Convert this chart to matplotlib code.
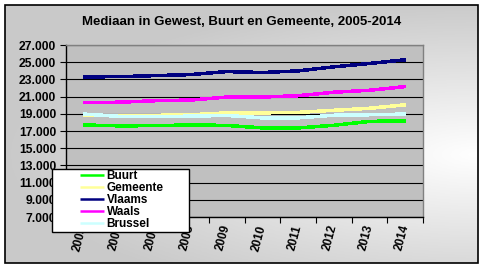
import numpy as np
import matplotlib
matplotlib.use("Agg")
import matplotlib.pyplot as plt
from matplotlib.patches import Rectangle
from matplotlib.ticker import FuncFormatter, FixedLocator

years = ["2005", "2006", "2007", "2008", "2009", "2010", "2011", "2012", "2013", "2014"]
buurt = [17700, 17600, 17620, 17710, 17650, 17360, 17360, 17660, 18120, 18180]
gemeente = [18780, 18800, 18820, 18890, 19110, 19110, 19160, 19410, 19640, 20050]
vlaams = [23290, 23320, 23440, 23560, 23910, 23800, 23990, 24460, 24850, 25280]
waals = [20290, 20350, 20520, 20600, 20950, 20950, 21100, 21510, 21740, 22160]
brussel = [18970, 18700, 18660, 18730, 18810, 18530, 18530, 18830, 18890, 18970]

series_names = ["Buurt", "Gemeente", "Vlaams", "Waals", "Brussel"]
series_vals = [buurt, gemeente, vlaams, waals, brussel]
series_colors = ["#00FF00", "#FFFF99", "#000080", "#FF00FF", "#CCFFFF"]

title = "Mediaan in Gewest, Buurt en Gemeente, 2005-2014"

W, H = 484, 269
plt.rcParams['font.family'] = ['Liberation Sans', 'DejaVu Sans']
fig = plt.figure(figsize=(W / 100, H / 100), dpi=100)
fig.patch.set_facecolor("white")

def fx(px):
    return px / W

def fy(py):
    return 1 - py / H

# background gradient inside chart border
bx0, bx1, by0, by1 = 5, 478, 5, 263
bg = fig.add_axes([fx(bx0), fy(by1), fx(bx1 - bx0), (by1 - by0) / H], zorder=-10)
gx = np.linspace(0, 1, 200)
gy = np.linspace(0, 1, 120)
GX, GY = np.meshgrid(gx, gy)
d = np.sqrt(((GX - 1.0) / 1.0) ** 2 + ((GY - 0.42) / 0.6) ** 2)
val = 1 - 0.21 * np.clip(d, 0, 1)
img = np.dstack([val, val, val])
bg.imshow(img, origin="lower", aspect="auto", extent=[0, 1, 0, 1])
bg.set_axis_off()

fig.patches.append(Rectangle((fx(bx0), fy(by1)), fx(bx1 - bx0), (by1 - by0) / H,
                             transform=fig.transFigure, fill=False,
                             edgecolor="black", linewidth=1.2, zorder=-5))

# plot area
ax = fig.add_axes([fx(66), fy(217), fx(423 - 66), (217 - 45) / H])
ax.set_facecolor("#C0C0C0")
x = np.arange(len(years))
for name, vals, col in zip(series_names, series_vals, series_colors):
    ax.plot(x, vals, color=col, linewidth=1.8, label=name, solid_capstyle="butt",
            antialiased=False, zorder=3)

ax.set_xlim(-0.5, len(years) - 0.5)
ax.set_ylim(7000, 27000)
ax.set_yticks(np.arange(7000, 27001, 2000))
ax.yaxis.set_major_formatter(FuncFormatter(lambda v, p: f"{int(v):,}".replace(",", ".")))
ax.yaxis.grid(True, color="black", linewidth=0.8)
ax.set_axisbelow(True)

ax.xaxis.set_major_locator(FixedLocator(np.arange(-0.5, len(years), 1.0)))
ax.xaxis.set_major_formatter(FuncFormatter(lambda v, p: ""))
ax.xaxis.set_minor_locator(FixedLocator(x))
ax.set_xticklabels(years, minor=True)
ax.tick_params(axis="x", which="major", direction="out", length=4, width=0.8, color="black")
ax.tick_params(axis="x", which="minor", length=0, pad=6)
ax.tick_params(axis="y", direction="out", length=4, width=0.8, pad=3)
for lbl in ax.get_xticklabels(minor=True):
    lbl.set_rotation(75)
    lbl.set_rotation_mode("anchor")
    lbl.set_fontsize(8.5)
    lbl.set_fontweight("bold")
    lbl.set_ha("right")
    lbl.set_va("center")
for lbl in ax.get_yticklabels():
    lbl.set_fontsize(8.7)
    lbl.set_fontweight("bold")

ax.spines["left"].set_color("black")
ax.spines["bottom"].set_color("black")
ax.spines["top"].set_color("#808080")
ax.spines["right"].set_color("#808080")
for s in ax.spines.values():
    s.set_linewidth(1.0)

# title
fig.text(fx(242), fy(22), title, ha="center", va="center", fontsize=9.5, fontweight="bold")

# legend box
lx0, lx1, ly0, ly1 = 52, 189, 169, 232
fig.patches.append(Rectangle((fx(lx0), fy(ly1)), fx(lx1 - lx0), (ly1 - ly0) / H,
                             transform=fig.transFigure, facecolor="white",
                             edgecolor="black", linewidth=1.0, zorder=4))
handles, labels = ax.get_legend_handles_labels()
leg = fig.legend(handles, labels, loc="upper left",
                 bbox_to_anchor=(fx(80), fy(170)), frameon=False,
                 prop={"size": 8.5, "weight": "bold"}, handlelength=2.0,
                 handletextpad=0.25, labelspacing=0.0, borderpad=0.0,
                 borderaxespad=0.0)
leg.set_zorder(5)

fig.savefig("out.png", dpi=100)
